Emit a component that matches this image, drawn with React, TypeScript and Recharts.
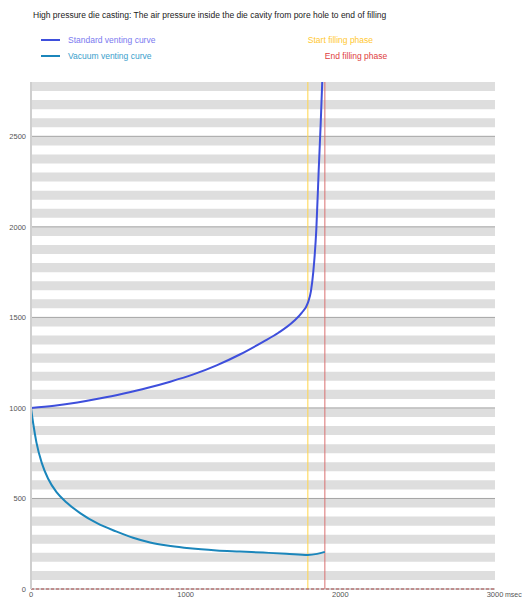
import React from 'react';
import { LineChart, Line, XAxis, YAxis, ReferenceLine, ReferenceArea } from 'recharts';

const title =
  'High pressure die casting: The air pressure inside the die cavity from pore hole to end of filling';

// Standard venting: time (msec) vs. air pressure
const standardTime = [0, 150, 300, 450, 600, 750, 900, 1050, 1200, 1350, 1500, 1600, 1700, 1750, 1790, 1810, 1825, 1845, 1860, 1873, 1883];
const standardPressure = [1000, 1012, 1030, 1053, 1080, 1110, 1145, 1185, 1235, 1295, 1365, 1415, 1480, 1525, 1580, 1645, 1750, 1990, 2310, 2570, 2800];

// Vacuum venting: time (msec) vs. air pressure
const vacuumTime = [0, 15, 35, 70, 110, 165, 230, 320, 430, 550, 660, 770, 880, 990, 1100, 1200, 1350, 1500, 1650, 1790, 1850, 1900];
const vacuumPressure = [1000, 910, 810, 695, 610, 535, 478, 418, 362, 318, 283, 257, 240, 228, 219, 213, 207, 201, 195, 188, 194, 205];

const startFilling = 1790;
const endFilling = 1900;

const xTicks = [0, 1000, 2000, 3000];
const yTicks = [0, 500, 1000, 1500, 2000, 2500];
const yMax = 2800;
// grey background stripes, 50 units tall, every 100 units
const stripeBottoms = [50, 150, 250, 350, 450, 550, 650, 750, 850, 950, 1050, 1150, 1250, 1350, 1450, 1550, 1650, 1750, 1850, 1950, 2050, 2150, 2250, 2350, 2450, 2550, 2650, 2750];

const STANDARD_COLOR = '#3e4fdc';
const VACUUM_COLOR = '#1b86bb';
const START_COLOR = '#ffd54a';
const END_COLOR = '#d87070';

const standardData = standardTime.map((t, i) => ({ t, p: standardPressure[i] }));
const vacuumData = vacuumTime.map((t, i) => ({ t, p: vacuumPressure[i] }));

const phaseLabel = (text: string, color: string, dy: number) => (props: any) => {
  const { viewBox } = props;
  return (
    <text x={viewBox.x} y={viewBox.y + dy} fill={color} fontSize={8.5}>
      {text}
    </text>
  );
};

const legendItems = [
  { name: 'Standard venting curve', color: STANDARD_COLOR, text: '#7a7af0' },
  { name: 'Vacuum venting curve', color: VACUUM_COLOR, text: '#3aa0cc' },
];

export default function App() {
  return (
    <div
      style={{
        position: 'absolute',
        left: 0,
        top: 0,
        width: 522,
        height: 599,
        background: '#fff',
        fontFamily: 'Arial, "Liberation Sans", sans-serif',
        overflow: 'hidden',
      }}
    >
      <div style={{ position: 'absolute', left: 33, top: 10, fontSize: 8.5, color: '#222', whiteSpace: 'nowrap' }}>
        {title}
      </div>
      {legendItems.map((item, i) => (
        <div
          key={item.name}
          style={{ position: 'absolute', left: 41, top: 34 + i * 16, display: 'flex', alignItems: 'center', height: 11 }}
        >
          <div style={{ width: 19, height: 2, background: item.color, marginRight: 8 }} />
          <span style={{ fontSize: 8.5, color: item.text, whiteSpace: 'nowrap' }}>{item.name}</span>
        </div>
      ))}

      <LineChart width={522} height={599} margin={{ top: 82, right: 27, bottom: 0, left: 0 }}>
        {stripeBottoms.map((b) => (
          <ReferenceArea key={b} y1={b} y2={b + 50} fill="#dedede" fillOpacity={1} stroke="none" />
        ))}
        {yTicks.map((v) => (
          <ReferenceLine key={v} y={v} stroke="#a4a4a4" strokeWidth={1} />
        ))}
        <XAxis
          type="number"
          dataKey="t"
          domain={[0, 3000]}
          ticks={xTicks}
          height={10}
          tickSize={0}
          tickMargin={3}
          tick={{ fill: '#555', fontSize: 7.5 }}
          axisLine={{ stroke: '#b04a4a', strokeDasharray: '3 2' }}
          label={{ value: 'msec', position: 'right', offset: 10, fill: '#555', fontSize: 7, dy: 1 }}
        />
        <YAxis
          type="number"
          domain={[0, yMax]}
          ticks={yTicks}
          allowDataOverflow
          width={31}
          tickSize={0}
          tickMargin={5}
          tick={{ fill: '#555', fontSize: 7.5 }}
          axisLine={{ stroke: '#cfcfcf', strokeWidth: 2 }}
        />
        <ReferenceLine
          x={startFilling}
          stroke={START_COLOR}
          strokeWidth={1}
          label={phaseLabel('Start filling phase', '#ffc830', -39)}
        />
        <ReferenceLine
          x={endFilling}
          stroke={END_COLOR}
          strokeWidth={1}
          label={phaseLabel('End filling phase', '#e04040', -23)}
        />
        <Line
          data={standardData}
          dataKey="p"
          type="monotone"
          stroke={STANDARD_COLOR}
          strokeWidth={2}
          dot={false}
          isAnimationActive={false}
        />
        <Line
          data={vacuumData}
          dataKey="p"
          type="monotone"
          stroke={VACUUM_COLOR}
          strokeWidth={2}
          dot={false}
          isAnimationActive={false}
        />
      </LineChart>
    </div>
  );
}
